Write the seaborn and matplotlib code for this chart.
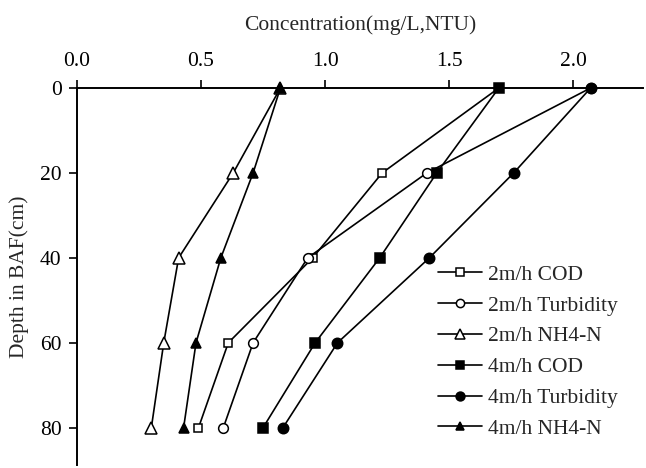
import numpy as np
import pandas as pd
import matplotlib
matplotlib.use('Agg')
import matplotlib.pyplot as plt
import seaborn as sns

depth = [0, 20, 40, 60, 80]

cod_2 = [1.70, 1.23, 0.95, 0.61, 0.49]
turb_2 = [2.07, 1.41, 0.93, 0.71, 0.59]
nh4_2 = [0.82, 0.63, 0.41, 0.35, 0.30]
cod_4 = [1.70, 1.45, 1.22, 0.96, 0.75]
turb_4 = [2.07, 1.76, 1.42, 1.05, 0.83]
nh4_4 = [0.82, 0.71, 0.58, 0.48, 0.43]

names = ['2m/h COD', '2m/h Turbidity', '2m/h NH4-N',
         '4m/h COD', '4m/h Turbidity', '4m/h NH4-N']
series = [cod_2, turb_2, nh4_2, cod_4, turb_4, nh4_4]
markers = ['s', 'o', '^', 's', 'o', '^']
faces = ['white', 'white', 'white', 'black', 'black', 'black']
msizes = [6, 7, 8, 7, 7.5, 7]

sns.set_style('ticks')
plt.rcParams['font.family'] = ['Liberation Serif', 'DejaVu Serif']
plt.rcParams['font.size'] = 15.5

fig = plt.figure(figsize=(6.46, 4.68), dpi=100)
ax = fig.add_axes([0.119, 0.007, 0.876, 0.805])

# filled series drawn after open ones so they sit on top at depth 0
for i in range(len(series)):
    df = pd.DataFrame({'conc': series[i], 'depth': depth})
    sns.lineplot(data=df, x='conc', y='depth', sort=False, orient='y',
                 color='black', linewidth=1.2, marker=markers[i],
                 markersize=msizes[i], markerfacecolor=faces[i],
                 markeredgecolor='black', markeredgewidth=1.1,
                 label=names[i], ax=ax, clip_on=False, zorder=3 + i)

ax.set_xlim(0, 2.28)
ax.set_ylim(88.7, 0)
ax.xaxis.tick_top()
ax.xaxis.set_label_position('top')
ax.set_xticks([0.0, 0.5, 1.0, 1.5, 2.0])
ax.set_xticklabels(['0.0', '0.5', '1.0', '1.5', '2.0'])
ax.set_yticks([0, 20, 40, 60, 80])
ax.set_xlabel('Concentration(mg/L,NTU)', labelpad=16)
ax.set_ylabel('Depth in BAF(cm)', labelpad=8)
ax.tick_params(axis='both', direction='out', length=6, width=1.2,
               colors='black')
ax.tick_params(axis='x', pad=6)
ax.tick_params(axis='y', pad=5)

for s in ['right', 'bottom']:
    ax.spines[s].set_visible(False)
for s in ['left', 'top']:
    ax.spines[s].set_linewidth(1.4)
    ax.spines[s].set_color('black')

ax.legend(loc='upper left', bbox_to_anchor=(0.638, 0.531), frameon=False,
          handlelength=2.05, handletextpad=0.28, labelspacing=0.5,
          borderaxespad=0, borderpad=0, fontsize=15.5, markerscale=0.85)

fig.savefig('out.png', dpi=100)
